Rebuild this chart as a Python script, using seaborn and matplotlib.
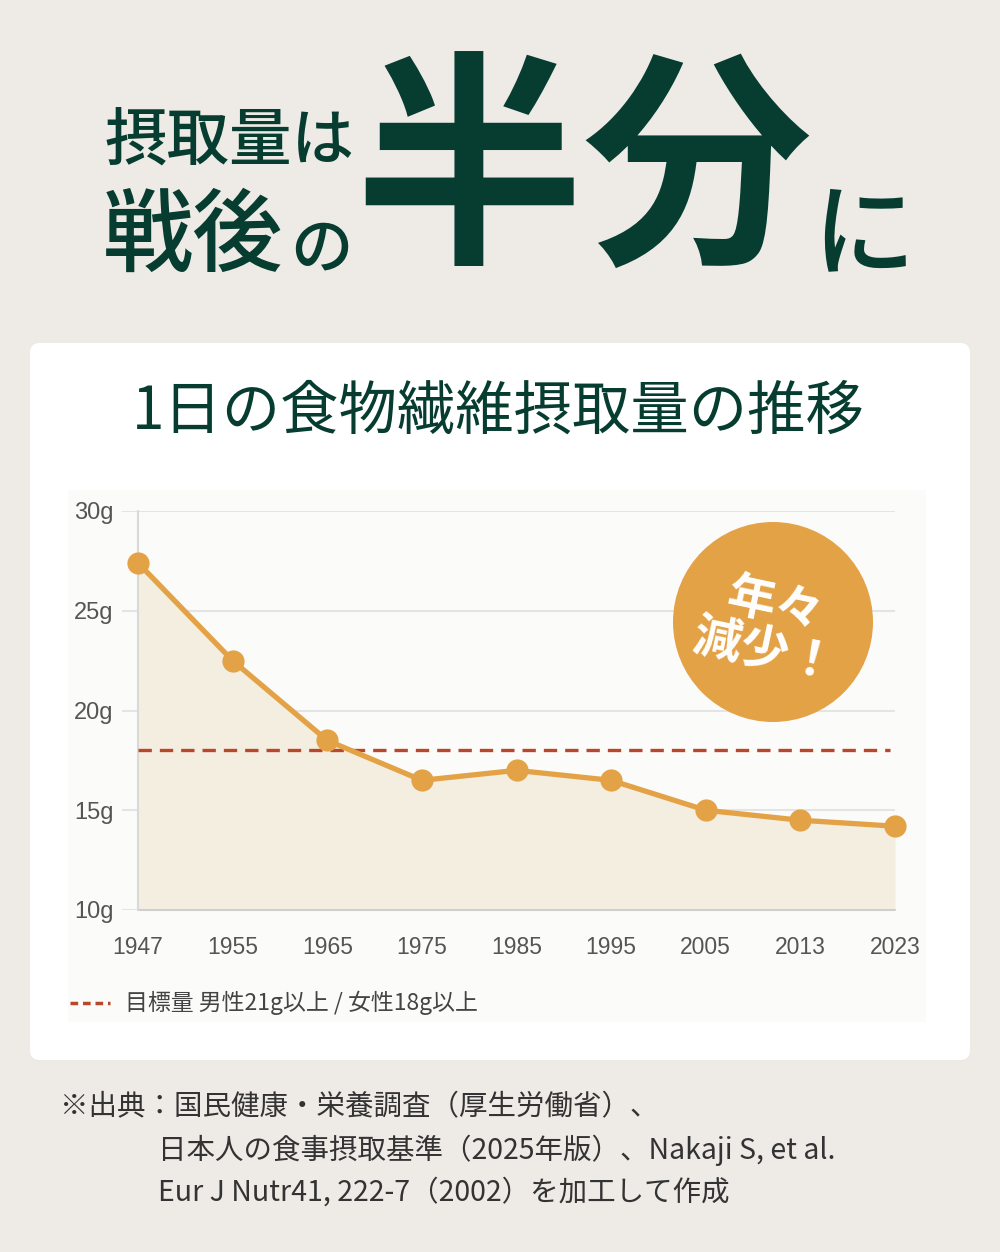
import numpy as np
import pandas as pd
import matplotlib
matplotlib.use("Agg")
import matplotlib.pyplot as plt
from matplotlib.patches import FancyBboxPatch, Rectangle, Circle
import seaborn as sns

# data
years = ["1947", "1955", "1965", "1975", "1985", "1995", "2005", "2013", "2023"]
fiber_g = [27.4, 22.5, 18.5, 16.5, 17.0, 16.5, 15.0, 14.5, 14.2]
target_g = 18
y_ticks = [10, 15, 20, 25, 30]
y_labels = ["10g", "15g", "20g", "25g", "30g"]

headline_1 = "摂取量は"
headline_2 = "戦後"
headline_3 = "の"
headline_big = "半分"
headline_end = "に"
chart_title = "1日の食物繊維摂取量の推移"
legend_text = "目標量 男性21g以上 / 女性18g以上"
badge_text = "年々\n減少！"
source_lines = [
    "※出典：国民健康・栄養調査（厚生労働省）、",
    "日本人の食事摂取基準（2025年版）、Nakaji S, et al.",
    "Eur J Nutr41, 222-7（2002）を加工して作成",
]

# colours
bg = "#EEEBE6"
green = "#073D31"
orange = "#E4A247"
fill_col = "#F4EEE1"
dash_col = "#B9482B"
grey_txt = "#555555"

sns.set_style("white")
plt.rcParams["font.family"] = ["Noto Sans CJK JP", "DejaVu Sans"]

W, H = 1000, 1252
fig = plt.figure(figsize=(W / 100, H / 100), dpi=100, facecolor=bg)

# background layer in pixel coords
bgax = fig.add_axes([0, 0, 1, 1], zorder=0)
bgax.set_xlim(0, W)
bgax.set_ylim(H, 0)
bgax.axis("off")
bgax.add_patch(FancyBboxPatch((30, 343), 940, 717, boxstyle="round,pad=0,rounding_size=10",
                              fc="white", ec="none"))
bgax.add_patch(Rectangle((68, 490), 858, 532, fc="#FBFBFA", ec="none"))

# headline
bgax.text(105, 142, headline_1, fontsize=45, color=green, fontweight="medium", va="center", ha="left")
bgax.text(103, 238, headline_2, fontsize=65, color=green, fontweight="medium", va="center", ha="left")
bgax.text(290, 250, headline_3, fontsize=45, color=green, fontweight="medium", va="center", ha="left")
bgax.text(583, 180, headline_big, fontsize=165, color=green, fontweight="bold", va="center", ha="center")
bgax.text(864, 238, headline_end, fontsize=74, color=green, fontweight="medium", va="center", ha="center")

bgax.text(498, 412, chart_title, fontsize=42, color=green, fontweight="regular", va="center", ha="center")

# legend row
bgax.plot([70, 110], [1003, 1003], color=dash_col, lw=2.5, dashes=(2.2, 1.4))
bgax.text(125, 1003, legend_text, fontsize=16.5, color="#444444", va="center", ha="left")

# source notes
for i, (x0, line) in enumerate(zip([60, 158, 158], source_lines)):
    bgax.text(x0, 1107 + 43 * i, line, fontsize=20.5, color="#333333", va="center", ha="left")

# main chart axes: x from 122px (gridline start) to 895px, y 10g at 910px, 30g at 511px
left, right = 122 / W, 895 / W
bottom, top = 1 - 910 / H, 1 - 511 / H
ax = fig.add_axes([left, bottom, right - left, top - bottom], zorder=2)
ax.patch.set_alpha(0)

df = pd.DataFrame({"pos": np.arange(len(years)), "fiber": fiber_g})
step = (895 - 138) / (len(years) - 1)
ax.set_xlim(-(138 - 122) / step, len(years) - 1)
ax.set_ylim(10, 30)

for t in y_ticks:
    ax.axhline(t, color="#E4E4E4", lw=1.5, zorder=0)
ax.plot([0, len(years) - 1], [10, 10], color="#CFCFCF", lw=1.5, zorder=1, clip_on=False)
ax.plot([0, 0], [10, 30], color="#D9D9D9", lw=1.5, zorder=1, clip_on=False)

ax.fill_between(df["pos"], df["fiber"], 10, color=fill_col, lw=0, zorder=0.5)
ax.plot([0, len(years) - 1.05], [target_g, target_g], color=dash_col, lw=2.4,
        dashes=(4, 2.4), zorder=2)
sns.lineplot(data=df, x="pos", y="fiber", ax=ax, color=orange, lw=3.8, marker="o",
             markersize=16, markeredgewidth=0, zorder=3, clip_on=False)

for s in ax.spines.values():
    s.set_visible(False)
ax.set_xticks(df["pos"])
ax.set_xticklabels(years)
ax.set_yticks(y_ticks)
ax.set_yticklabels(y_labels)
ax.tick_params(axis="both", length=0, colors=grey_txt)
ax.tick_params(axis="x", pad=19, labelsize=16.5)
ax.tick_params(axis="y", pad=6, labelsize=17)
for lab in ax.get_xticklabels() + ax.get_yticklabels():
    lab.set_family(["Liberation Sans", "DejaVu Sans"])
ax.set_xlabel("")
ax.set_ylabel("")
ax.grid(False)

# badge on top
top_ax = fig.add_axes([0, 0, 1, 1], zorder=5)
top_ax.set_xlim(0, W)
top_ax.set_ylim(H, 0)
top_ax.axis("off")
top_ax.add_patch(Circle((773, 622), 100, fc=orange, ec="none"))
top_ax.text(770, 628, badge_text, fontsize=35, color="white", fontweight="bold",
            ha="center", va="center", rotation=-12, linespacing=0.95, multialignment="center")

fig.savefig("out.png", dpi=100, facecolor=bg)
